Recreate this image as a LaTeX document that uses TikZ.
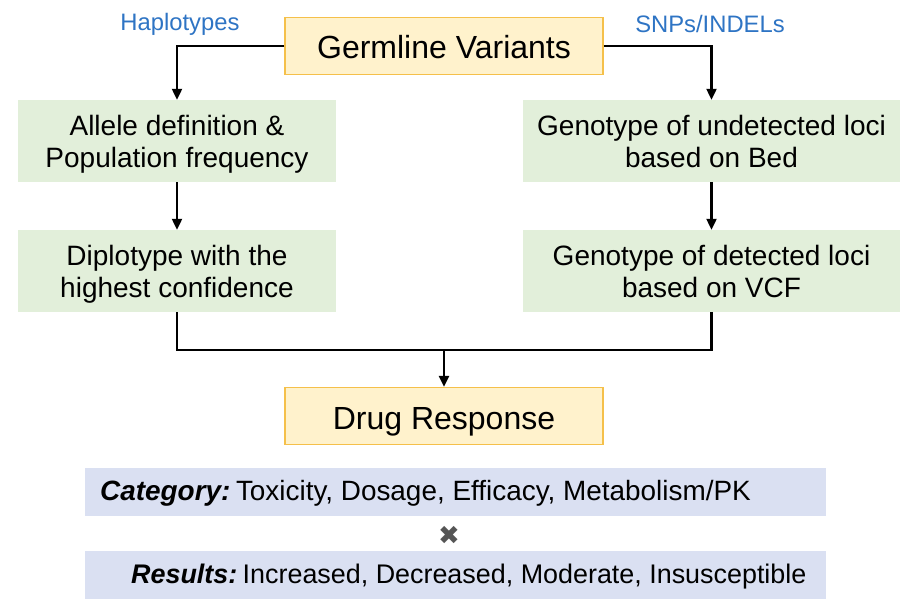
\documentclass[tikz,border=0pt]{standalone}
\usepackage{fontspec}
\setmainfont{Liberation Sans}
\newfontfamily\symfont{DejaVu Sans}
\usetikzlibrary{arrows.meta}
\definecolor{yfill}{HTML}{FFF2CC}
\definecolor{ydraw}{HTML}{F5C04A}
\definecolor{gfill}{HTML}{E2EFDA}
\definecolor{bfill}{HTML}{DAE0F2}
\definecolor{btext}{HTML}{2E74C4}
\definecolor{xgray}{HTML}{555555}
\newcommand\ls{\rule[-6pt]{0pt}{32pt}}
\tikzset{
  ybox/.style={draw=ydraw, line width=1.2pt, fill=yfill, minimum width=318pt, minimum height=57pt, inner sep=0pt, text height=30pt, text depth=4pt, font=\fontsize{32}{36}\selectfont},
  gbox/.style={fill=gfill, minimum width=318pt, minimum height=82pt, inner sep=0pt, align=center, font=\fontsize{28}{32}\selectfont},
  rbox/.style={fill=gfill, minimum width=377pt, minimum height=82pt, inner sep=0pt, align=center, font=\fontsize{28}{32}\selectfont},
  pbox/.style={fill=bfill, minimum width=741pt, minimum height=48pt, inner sep=0pt},
  lbl/.style={text=btext, font=\fontsize{23.8}{28}\selectfont, inner sep=0pt},
  btxt/.style={inner sep=0pt, anchor=west, text height=22pt, text depth=6pt},
  conn/.style={line width=2.2pt, black},
  arr/.style={conn, -{Triangle[length=11pt,width=10pt]}},
}
\begin{document}
\begin{tikzpicture}[x=1pt,y=-1pt]
\useasboundingbox (0,0) rectangle (916,610);
\node[ybox] (gv) at (444,46) {Germline Variants};
\node[lbl] (hap) at (180,24) {Haplotypes};
\node[lbl] (snp) at (710,24) {SNPs/INDELs};
\node[gbox] (l1) at (177,141) {\ls Allele definition \&\\\ls Population frequency};
\node[gbox] (l2) at (177,271) {\ls Diplotype with the\\\ls highest confidence};
\node[rbox] (r1) at (711.5,141) {\ls Genotype of undetected loci\\\ls based on Bed};
\node[rbox] (r2) at (711.5,271) {\ls Genotype of detected loci\\\ls based on VCF};
\node[ybox] (dr) at (444,416) {Drug Response};
\node[pbox] (cat) at (455.5,492) {};
\node[pbox] (res) at (455.5,575) {};
\node[btxt, font=\fontsize{27.9}{30}\selectfont] (cattxt) at (100,492) {\textbf{\textit{Category:}}\hspace{0.2em}Toxicity, Dosage, Efficacy, Metabolism/PK};
\node[btxt, font=\fontsize{26.9}{30}\selectfont] (restxt) at (131,575) {\textbf{\textit{Results:}}\hspace{0.2em}Increased, Decreased, Moderate, Insusceptible};
\node[text=xgray, inner sep=0pt, font=\symfont\fontsize{26}{30}\selectfont] (times) at (449,535) {✖};
\draw[arr] (gv.west) -| (l1.north);
\draw[arr] (gv.east) -| (r1.north);
\draw[arr] (l1) -- (l2);
\draw[arr] (r1) -- (r2);
\coordinate (j) at (444,350);
\draw[conn] (l2.south) |- (j) -| (r2.south);
\draw[arr] (j) -- (dr.north);
\end{tikzpicture}
\end{document}
